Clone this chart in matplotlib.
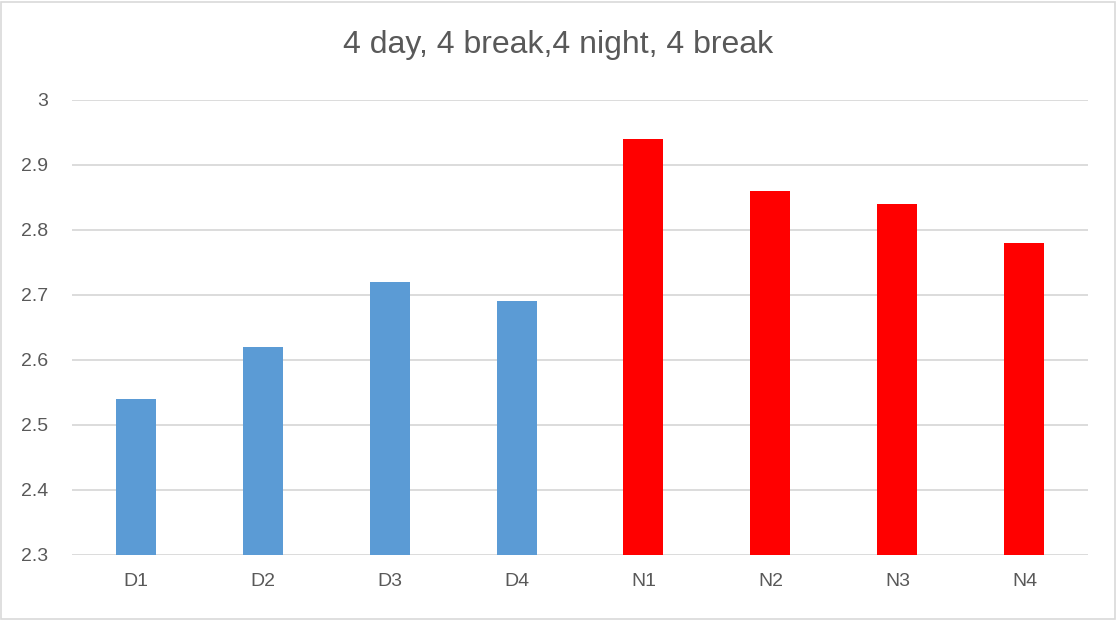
import matplotlib.pyplot as plt
from matplotlib.patches import Rectangle

categories = ["D1", "D2", "D3", "D4", "N1", "N2", "N3", "N4"]
values = [2.54, 2.62, 2.72, 2.69, 2.94, 2.86, 2.84, 2.78]
colors = ["#5B9BD5"] * 4 + ["#FF0000"] * 4
yticks = [2.3, 2.4, 2.5, 2.6, 2.7, 2.8, 2.9, 3.0]
ytick_labels = ["2.3", "2.4", "2.5", "2.6", "2.7", "2.8", "2.9", "3"]

plt.rcParams['font.family'] = ['Liberation Sans', 'DejaVu Sans']

fig = plt.figure(figsize=(11.17, 6.2), dpi=100)
ax = fig.add_axes([0.0645, 0.105, 0.9095, 0.734])

x = range(len(categories))
ax.bar(x, [v - 2.3 for v in values], bottom=2.3, width=0.315, color=colors, zorder=3)

ax.set_xlim(-0.5, len(categories) - 0.5)
ax.set_ylim(2.3, 3.0)
ax.set_yticks(yticks)
ax.set_yticklabels(ytick_labels)
ax.set_xticks(list(x))
ax.set_xticklabels(categories)
ax.tick_params(axis='both', length=0, labelsize=14, labelcolor="#595959")
ax.tick_params(axis='y', pad=17)
ax.tick_params(axis='x', pad=13)
ax.grid(axis='y', color="#D9D9D9", linewidth=1.3, zorder=0)
for s in ax.spines.values():
    s.set_visible(False)

fig.text(0.5, 0.927, "4 day, 4 break,4 night, 4 break", ha='center', va='center',
         fontsize=23, color="#595959")

fig.patches.append(Rectangle((0.001, 0.002), 0.997, 0.995, transform=fig.transFigure,
                             fill=False, edgecolor="#D9D9D9", linewidth=1.2))

fig.savefig("out.png", dpi=100)
